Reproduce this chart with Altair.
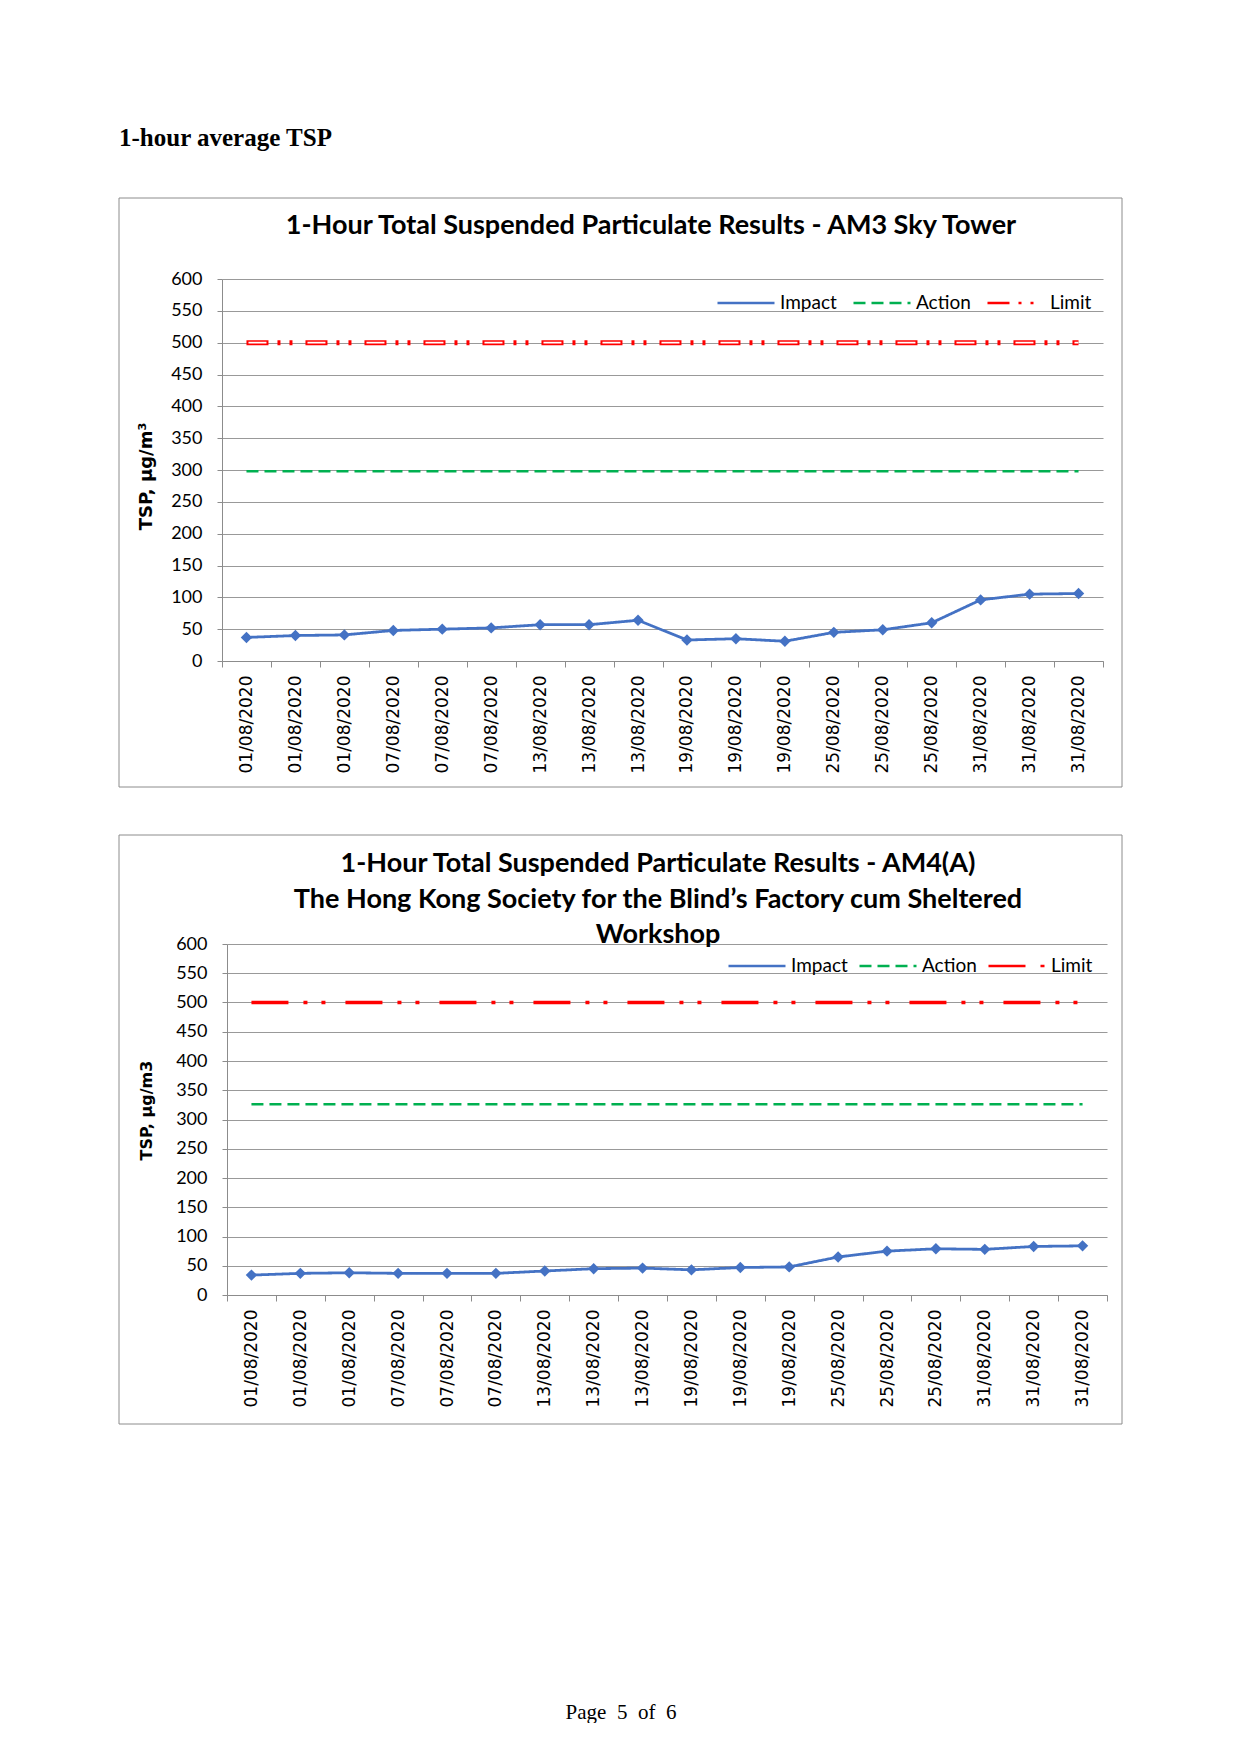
import json
import altair as alt
import pandas as pd

# ---------------- data ----------------
dates = ["01/08/2020", "01/08/2020", "01/08/2020",
         "07/08/2020", "07/08/2020", "07/08/2020",
         "13/08/2020", "13/08/2020", "13/08/2020",
         "19/08/2020", "19/08/2020", "19/08/2020",
         "25/08/2020", "25/08/2020", "25/08/2020",
         "31/08/2020", "31/08/2020", "31/08/2020"]

am3_impact = [37, 40, 41, 48, 50, 52, 57, 57, 64, 33, 35, 31, 45, 49, 60, 96, 105, 106]
am3_action = 298
am3_limit = 500

am4_impact = [34, 37, 38, 37, 37, 37, 41, 45, 46, 43, 47, 48, 65, 75, 79, 78, 83, 84]
am4_action = 326
am4_limit = 500

series_names = ["Impact", "Action", "Limit"]
series_colors = ["#4472C4", "#00B050", "#FF0000"]

heading = "1-hour average TSP"
title1 = "1-Hour Total Suspended Particulate Results - AM3 Sky Tower"
title2 = ["1-Hour Total Suspended Particulate Results - AM4(A)",
          "The Hong Kong Society for the Blind\u2019s Factory cum Sheltered",
          "Workshop"]
footer = "Page\u20025\u2002of\u20026"
y_ticks = list(range(0, 601, 50))


def long_df(impact, action, limit):
    rows = []
    for i, v in enumerate(impact):
        rows.append({"idx": i, "series": "Impact", "value": v})
        rows.append({"idx": i, "series": "Action", "value": action})
        rows.append({"idx": i, "series": "Limit", "value": limit})
    return pd.DataFrame(rows)


one = pd.DataFrame({"k": [0]})
label_expr = json.dumps(dates) + "[datum.value]"
GRID = "#999999"
AXIS = "#8c8c8c"


def panel(df, W, H, x_range, y_offset, ytitle, ytsize, ytx, yty, limit_dash, limit_width,
          double_limit, lx, ly, colpad, frame, extra):
    leg = alt.Legend(title=None, orient="none", legendX=lx, legendY=ly,
                     direction="horizontal", symbolType="stroke", symbolSize=3250,
                     symbolStrokeWidth=2.5, labelFont="Lato", labelFontSize=19,
                     labelColor="black", labelOffset=4, columnPadding=colpad, padding=0)
    color_enc = alt.Color("series:N", scale=alt.Scale(domain=series_names, range=series_colors),
                          legend=leg)
    dash_enc = alt.StrokeDash("series:N",
                              scale=alt.Scale(domain=series_names,
                                              range=[[1, 0], [12, 6], limit_dash]),
                              legend=leg)
    x_enc = alt.X("idx:O",
                  scale=alt.Scale(type="band", paddingInner=0, paddingOuter=0, range=x_range),
                  axis=alt.Axis(title=None, labelExpr=label_expr, labelAngle=270,
                                labelFont="DejaVu Sans", labelFontSize=17, labelColor="black",
                                labelPadding=8, tickBand="extent", tickSize=6,
                                tickColor=AXIS, domainColor=AXIS, grid=False))
    y_enc = alt.Y("value:Q", scale=alt.Scale(domain=[0, 600], nice=False),
                  axis=alt.Axis(values=y_ticks, grid=True, gridColor=GRID, domainColor=AXIS,
                                tickColor=AXIS, tickSize=5, labelFont="Lato", labelFontSize=18,
                                labelColor="black", labelPadding=15, offset=y_offset,
                                title=ytitle, titleFont="DejaVu Sans", titleFontSize=ytsize,
                                titleFontWeight="bold", titleColor="black", titleX=ytx,
                                titleY=yty, titleAngle=270, titleBaseline="middle",
                                titleAlign="center"))
    base = alt.Chart(df).encode(x=x_enc, y=y_enc)
    action = base.transform_filter("datum.series === 'Action'").mark_line(
        strokeWidth=2.5).encode(color=color_enc, strokeDash=dash_enc)
    limit = base.transform_filter("datum.series === 'Limit'").mark_line(
        strokeWidth=limit_width).encode(color=color_enc, strokeDash=dash_enc)
    impact = base.transform_filter("datum.series === 'Impact'").mark_line(
        strokeWidth=2.8).encode(color=color_enc, strokeDash=dash_enc)
    points = base.transform_filter("datum.series === 'Impact'").mark_point(
        shape="diamond", filled=True, size=130, color="#4472C4", opacity=1)
    fx1, fx2, fy1, fy2 = frame
    frame_rect = alt.Chart(one).mark_rect(fill="transparent", stroke=AXIS, strokeWidth=1).encode(
        x=alt.value(fx1), x2=alt.value(fx2), y=alt.value(fy1), y2=alt.value(fy2))
    layers = [frame_rect] + extra + [action, limit]
    if double_limit:
        inner = base.transform_filter("datum.series === 'Limit'").mark_line(
            strokeWidth=1.6, color="white", strokeDash=[0, 2, 18, 39])
        layers.append(inner)
    layers += [impact, points]
    return alt.layer(*layers).properties(width=W, height=H)


# ---------------- chart 1 ----------------
W1, H1 = 881, 382
bounds1 = alt.Chart(one).mark_rect(fill="transparent").encode(
    x=alt.value(-103), x2=alt.value(900), y=alt.value(-179), y2=alt.value(508))
head1 = alt.Chart(one).mark_text(font="Liberation Serif", fontWeight="bold", fontSize=25,
                                 align="left", baseline="alphabetic", color="black").encode(
    x=alt.value(-103), y=alt.value(-133), text=alt.value(heading))
t1 = alt.Chart(one).mark_text(font="Lato", fontWeight="bold", fontSize=27, align="center",
                              baseline="middle", color="black").encode(
    x=alt.value(429), y=alt.value(-53), text=alt.value(title1))

chart1 = panel(long_df(am3_impact, am3_action, am3_limit), W1, H1, [0, W1], 0,
               "TSP, \u00b5g/m\u00b3", 18, -76, 197, [22, 9, 3, 9, 3, 13], 5, True, 494, -6, 11,
               (-103, 900, -81, 508), [bounds1, head1, t1])

# ---------------- chart 2 ----------------
W2, H2 = 885, 351
t2 = alt.Chart(one).mark_text(font="Lato", fontWeight="bold", fontSize=27, align="center",
                              baseline="middle", lineHeight=35.5, color="black").encode(
    x=alt.value(436), y=alt.value(-80), text=alt.value(title2))
foot = alt.Chart(one).mark_text(font="Liberation Serif", fontSize=21, align="center",
                                baseline="alphabetic", color="black").encode(
    x=alt.value(399), y=alt.value(775), text=alt.value(footer))

chart2 = panel(long_df(am4_impact, am4_action, am4_limit), W2, H2, [5, W2], -5,
               "TSP, \u00b5g/m3", 16, -81, 166, [37, 15, 4, 14, 4, 20], 3.5, False, 505, -8, 6,
               (-103, 900, -109, 480), [t2, foot])

chart = alt.vconcat(chart1, chart2, spacing=46).resolve_scale(
    color="independent", strokeDash="independent").resolve_legend(
    color="independent", strokeDash="independent").properties(
    padding={"left": 110, "top": 92, "right": 0, "bottom": 0},
    background="white").configure_view(stroke=None)

chart.save("out.html", embed_options={"renderer": "svg", "actions": False})
